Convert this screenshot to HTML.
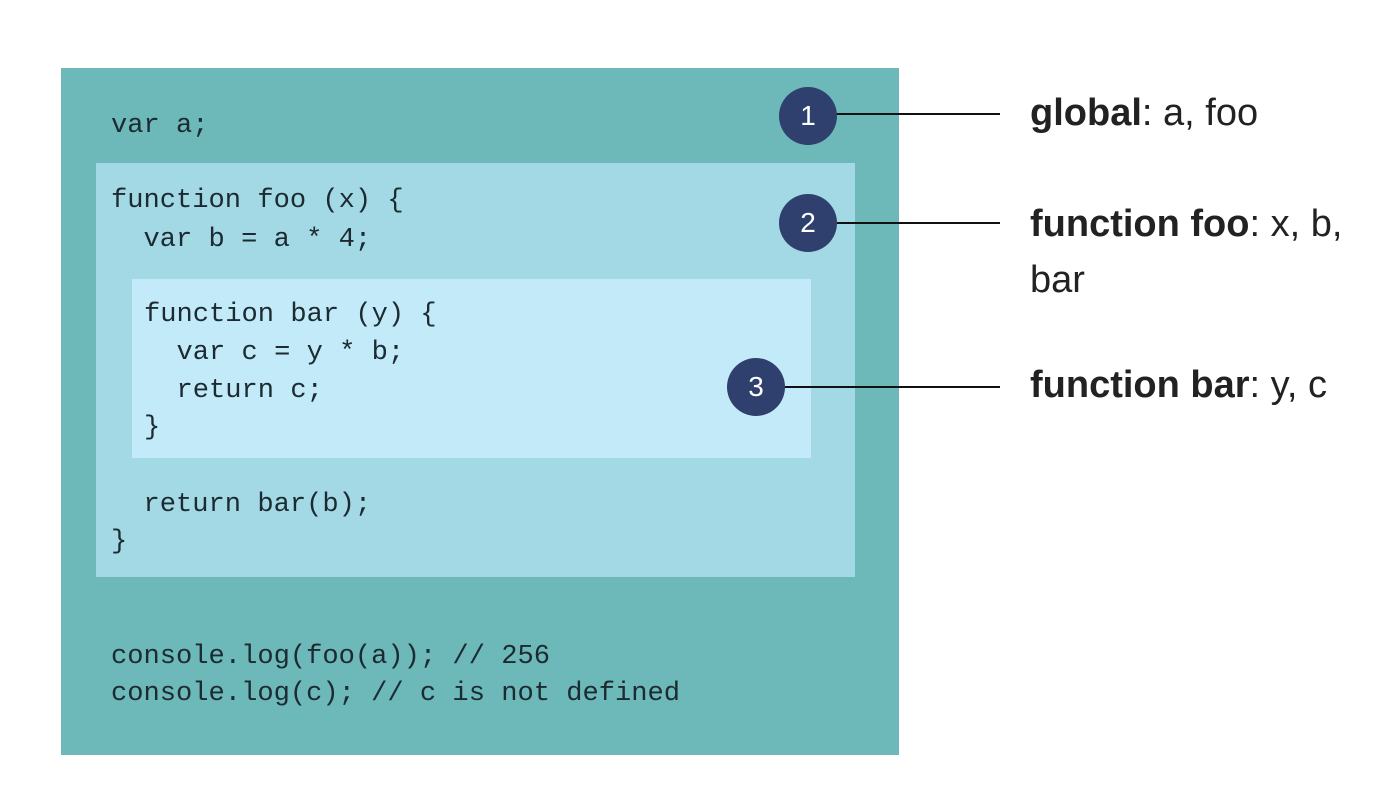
<!DOCTYPE html>
<html><head><meta charset="utf-8"><style>
body{margin:0;width:1400px;height:788px;background:#fff;position:relative;overflow:hidden;font-family:"Liberation Sans",sans-serif}
.b{position:absolute}
.c{position:absolute;font-family:"Liberation Mono","DejaVu Sans Mono",monospace;font-size:27.1px;color:#1c2a32;white-space:pre;line-height:30px}
.n{position:absolute;width:58px;height:58px;border-radius:50%;background:#2f3f6e;color:#fff;font-size:28px;text-align:center;line-height:58px}
.l{position:absolute;height:2px;background:#111}
.t{position:absolute;font-size:38px;color:#222;white-space:nowrap;line-height:40px}
.t b{font-weight:bold}
</style></head><body>
<div class="b" style="left:61px;top:68px;width:838px;height:687px;background:#6db8b8"></div>
<div class="b" style="left:96px;top:163px;width:759px;height:414px;background:#a3d9e4"></div>
<div class="b" style="left:132px;top:279px;width:679px;height:179px;background:#c2eaf8"></div>
<div class="c" style="left:111px;top:111px">var a;</div>
<div class="c" style="left:111px;top:186px">function foo (x) {</div>
<div class="c" style="left:111px;top:225px">  var b = a * 4;</div>
<div class="c" style="left:144px;top:300px">function bar (y) {</div>
<div class="c" style="left:144px;top:338px">  var c = y * b;</div>
<div class="c" style="left:144px;top:376px">  return c;</div>
<div class="c" style="left:144px;top:413px">}</div>
<div class="c" style="left:111px;top:490px">  return bar(b);</div>
<div class="c" style="left:111px;top:527px">}</div>
<div class="c" style="left:111px;top:642px">console.log(foo(a)); // 256</div>
<div class="c" style="left:111px;top:679px">console.log(c); // c is not defined</div>
<div class="l" style="left:808px;top:113px;width:192px"></div>
<div class="l" style="left:808px;top:222px;width:192px"></div>
<div class="l" style="left:756px;top:386px;width:244px"></div>
<div class="n" style="left:779px;top:87px">1</div>
<div class="n" style="left:779px;top:194px">2</div>
<div class="n" style="left:727px;top:358px">3</div>
<div class="t" style="left:1030px;top:93px"><b>global</b>: a, foo</div>
<div class="t" style="left:1030px;top:204px"><b>function foo</b>: x, b,</div>
<div class="t" style="left:1030px;top:260px">bar</div>
<div class="t" style="left:1030px;top:365px"><b>function bar</b>: y, c</div>
</body></html>
